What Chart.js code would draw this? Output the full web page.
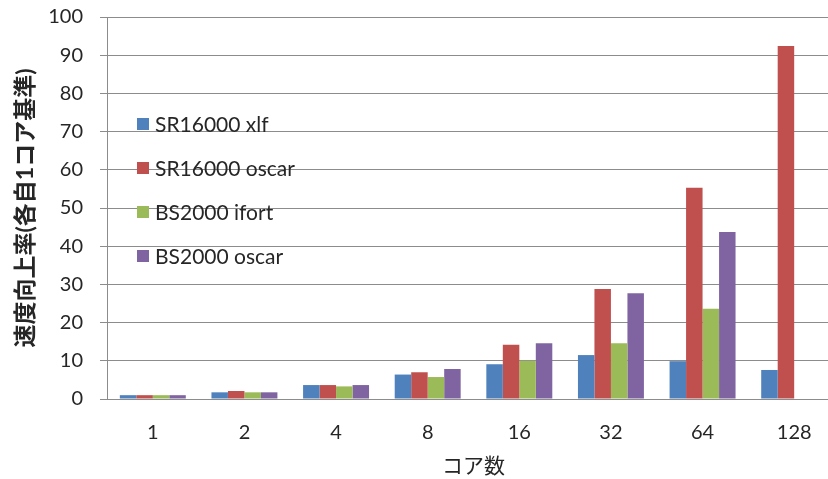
<!DOCTYPE html>
<html>
<head>
<meta charset="utf-8">
<script src="https://cdn.jsdelivr.net/npm/chart.js@4.4.0/dist/chart.umd.min.js"></script>
<style>
    html, body { margin: 0; padding: 0; background: #fff; overflow: hidden; }
    #wrap { width: 845px; height: 479px; }
</style>
</head>
<body>
<div id="wrap"><canvas id="speedupChart"></canvas></div>
<script>
    // --- Data ---
    const cores = ['1', '2', '4', '8', '16', '32', '64', '128'];
    const sr16000Xlf = [1, 1.75, 3.65, 6.4, 9.1, 11.5, 9.9, 7.6];
    const sr16000Oscar = [1, 2.1, 3.65, 7.0, 14.2, 28.8, 55.3, 92.4];
    const bs2000Ifort = [1, 1.75, 3.3, 5.75, 10.0, 14.6, 23.6, null];
    const bs2000Oscar = [1, 1.75, 3.65, 7.85, 14.6, 27.7, 43.7, null];
    const seriesNames = ['SR16000 xlf', 'SR16000 oscar', 'BS2000 ifort', 'BS2000 oscar'];
    const seriesColors = ['#4F81BD', '#C0504D', '#9BBB59', '#8064A2'];
    const yTitle = '速度向上率(各自1コア基準)';
    const xTitle = 'コア数';

    const fontFamily = "Lato, 'Noto Sans CJK JP', sans-serif";
    const gridColor = '#8c8c8c';
    const textColor = '#262626';

    // legend drawn inside the plot area, like the original
    const insideLegend = {
        id: 'insideLegend',
        afterDraw(chart) {
            const ctx = chart.ctx;
            ctx.save();
            ctx.font = '21px ' + fontFamily;
            ctx.textBaseline = 'middle';
            chart.data.datasets.forEach((ds, i) => {
                const y = 124 + i * 44;
                ctx.fillStyle = ds.backgroundColor;
                ctx.fillRect(137, y - 6, 12, 12);
                ctx.fillStyle = textColor;
                ctx.fillText(ds.label, 155, y + 1);
            });
            ctx.restore();
        }
    };

    const values = [sr16000Xlf, sr16000Oscar, bs2000Ifort, bs2000Oscar];

    new Chart(document.getElementById('speedupChart'), {
        type: 'bar',
        data: {
            labels: cores,
            datasets: values.map((v, i) => ({
                label: seriesNames[i],
                data: v,
                backgroundColor: seriesColors[i],
                borderWidth: 0,
                categoryPercentage: 0.72,
                barPercentage: 1.0
            }))
        },
        options: {
            responsive: true,
            maintainAspectRatio: false,
            animation: false,
            layout: { padding: { top: 17, right: 5, left: 0, bottom: 0 } },
            plugins: {
                legend: { display: false },
                tooltip: { enabled: false }
            },
            scales: {
                x: {
                    grid: { display: false, drawTicks: false },
                    border: { display: true, color: gridColor, width: 1 },
                    ticks: { color: textColor, padding: 22, font: { family: fontFamily, size: 20 } },
                    title: {
                        display: true,
                        text: xTitle,
                        color: textColor,
                        padding: { top: 0, bottom: 0 },
                        font: { family: fontFamily, size: 21 }
                    },
                    afterFit(scale) { scale.height = 80; }
                },
                y: {
                    min: 0,
                    max: 100,
                    grid: { color: gridColor, lineWidth: 1, drawTicks: true, tickLength: 7 },
                    border: { display: true, color: gridColor, width: 1 },
                    ticks: { stepSize: 10, color: textColor, padding: 17, font: { family: fontFamily, size: 20 } },
                    title: {
                        display: true,
                        text: yTitle,
                        color: textColor,
                        padding: { top: 12, bottom: 0 },
                        font: { family: fontFamily, size: 23, weight: 'bold' }
                    },
                    afterFit(scale) {
                        scale.width = 107;
                        scale.paddingTop = 0;
                        scale.paddingBottom = 0;
                    }
                }
            }
        },
        plugins: [insideLegend]
    });
</script>
</body>
</html>
